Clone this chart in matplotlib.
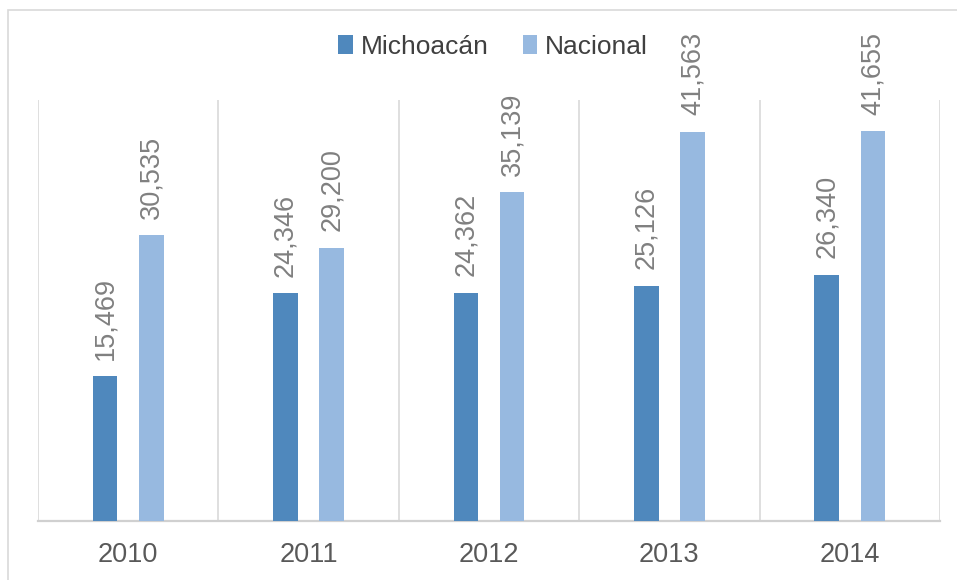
import numpy as np
import matplotlib
matplotlib.use("Agg")
import matplotlib.pyplot as plt
from matplotlib.patches import Rectangle

years = ["2010", "2011", "2012", "2013", "2014"]
michoacan = [15469, 24346, 24362, 25126, 26340]
nacional = [30535, 29200, 35139, 41563, 41655]

plt.rcParams["font.family"] = ["Liberation Sans", "DejaVu Sans"]

fig = plt.figure(figsize=(9.57, 5.80), dpi=100)
W, H = 957, 580
ax = fig.add_axes([38 / W, (H - 521) / H, 902 / W, (521 - 100) / H])

# outer chart border (only top/left visible in the reference)
fig.patches.append(Rectangle((8 / W, -0.1), 1.2, (H - 10) / H + 0.1, transform=fig.transFigure,
                             fill=False, edgecolor="#d9d9d9", linewidth=1.2))

x = np.arange(len(years))
w = 0.136
off = 0.128
c1, c2 = "#4f88bd", "#97b9e0"
b1 = ax.bar(x - off, michoacan, w, color=c1, label="Michoacán", zorder=3)
b2 = ax.bar(x + off, nacional, w, color=c2, label="Nacional", zorder=3)

for bars, vals in ((b1, michoacan), (b2, nacional)):
    for rect, v in zip(bars, vals):
        ax.annotate(f"{v:,}", (rect.get_x() + rect.get_width() / 2, v),
                    xytext=(0, 12), textcoords="offset points",
                    ha="center", va="bottom", rotation=90,
                    fontsize=19.5, color="#808080")

ax.set_xlim(-0.5, len(years) - 0.5)
ax.set_ylim(0, 45000)
for b in np.arange(-0.5, len(years), 1.0):
    ax.axvline(b, color="#d9d9d9", linewidth=1.2, zorder=1)

for s in ("left", "right", "top"):
    ax.spines[s].set_visible(False)
ax.spines["bottom"].set_color("#d0d0d0")
ax.spines["bottom"].set_linewidth(1.6)
ax.set_yticks([])
ax.set_xticks(x)
ax.set_xticklabels(years)
ax.tick_params(axis="x", length=0, pad=15, labelsize=19.5, labelcolor="#595959")

leg = fig.legend(loc="center", bbox_to_anchor=(493 / W, (H - 47) / H), ncol=2,
                 frameon=False, fontsize=19, handlelength=0.55, handleheight=0.75,
                 handletextpad=0.3, columnspacing=1.3, labelcolor="#404040")

fig.savefig("out.png", dpi=100)
